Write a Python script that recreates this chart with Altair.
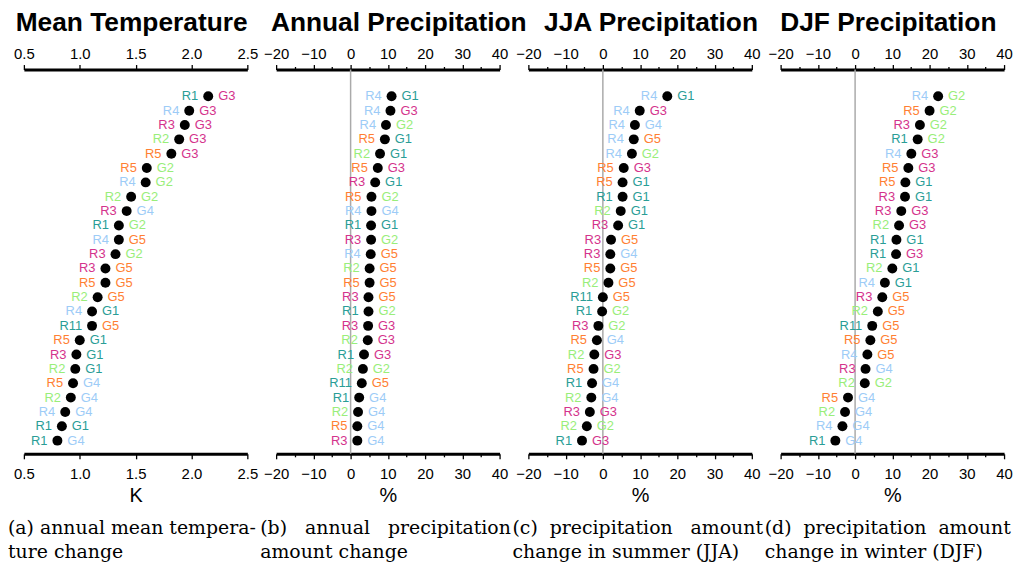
import altair as alt
import pandas as pd

# ---- data ----
code_domain = ["1", "2", "3", "4", "5", "11"]
code_colors = ["#2a9d96", "#99ee7a", "#d4338c", "#9dccf7", "#ff7f33", "#2a9d96"]

titles = ["Mean Temperature", "Annual Precipitation", "JJA Precipitation", "DJF Precipitation"]
title_dx = [-4, 11, 11, -4]
axis_titles = ["K", "%", "%", "%"]
NB = "\u00a0"
captions = [
    "(a) annual mean tempera-\nture change",
    "(b)" + NB * 3 + "annual" + NB * 3 + "precipitation\namount change",
    "(c)" + NB * 2 + "precipitation" + NB * 3 + "amount\nchange in summer (JJA)",
    "(d)" + NB * 2 + "precipitation" + NB * 2 + "amount\nchange in winter (DJF)",
]

temp_r = ["R1","R4","R3","R2","R5","R5","R4","R2","R3","R1","R4","R3","R3","R5","R2","R4","R11","R5","R3","R2","R5","R2","R4","R1","R1"]
temp_g = ["G3","G3","G3","G3","G3","G2","G2","G2","G4","G2","G5","G2","G5","G5","G5","G1","G5","G1","G1","G1","G4","G4","G4","G1","G4"]
temp_v = [2.15,1.98,1.94,1.89,1.82,1.60,1.59,1.46,1.42,1.35,1.35,1.32,1.23,1.23,1.16,1.11,1.11,1.00,0.97,0.96,0.94,0.92,0.87,0.84,0.80]

ann_r = ["R4","R4","R4","R5","R2","R5","R3","R5","R4","R1","R3","R4","R2","R5","R3","R1","R3","R2","R1","R2","R11","R1","R2","R5","R3"]
ann_g = ["G1","G3","G2","G1","G1","G3","G1","G2","G4","G1","G2","G5","G5","G5","G5","G2","G3","G3","G3","G2","G5","G4","G4","G4","G4"]
ann_v = [11.0,10.7,9.5,9.2,7.9,7.3,6.6,5.6,5.6,5.5,5.5,5.4,5.1,5.1,4.8,4.8,4.7,4.6,3.6,3.3,3.0,2.3,2.0,1.8,1.8]

jja_r = ["R4","R4","R4","R4","R4","R5","R5","R1","R2","R3","R3","R3","R5","R2","R11","R1","R3","R5","R2","R5","R1","R2","R3","R2","R1"]
jja_g = ["G1","G3","G4","G5","G2","G3","G1","G1","G1","G1","G5","G4","G5","G5","G5","G2","G2","G4","G3","G2","G4","G4","G3","G2","G3"]
jja_v = [17.3,9.9,8.6,8.3,7.8,5.6,5.3,5.3,4.8,4.1,2.2,2.0,2.0,1.5,0.0,-0.2,-1.2,-1.6,-2.3,-2.5,-2.9,-3.1,-3.5,-4.3,-5.6]

djf_r = ["R4","R5","R3","R1","R4","R5","R5","R3","R3","R2","R1","R1","R2","R4","R3","R2","R11","R5","R4","R3","R2","R5","R2","R4","R1"]
djf_g = ["G2","G2","G2","G2","G3","G3","G1","G1","G3","G3","G1","G3","G1","G1","G5","G5","G5","G5","G5","G4","G2","G4","G4","G4","G4"]
djf_v = [22.3,20.0,17.4,16.8,15.1,14.3,13.5,13.4,12.4,11.8,11.1,11.0,10.0,8.0,7.3,6.1,4.6,4.1,3.3,2.8,2.6,-1.9,-2.7,-3.4,-5.3]

temp_domain = [0.5, 2.5]
temp_ticks = [0.5, 1.0, 1.5, 2.0, 2.5]
prec_domain = [-20, 40]
prec_ticks = [-20, -15, -10, -5, 0, 5, 10, 15, 20, 25, 30, 35, 40]

W, H = 225, 387
FONT = "Liberation Sans"
color_scale = alt.Scale(domain=code_domain, range=code_colors)


def panel(i, rl, gl, vals, dom, ticks, is_prec):
    df = pd.DataFrame({"rank": list(range(1, len(vals) + 1)), "v": vals, "r": rl, "g": gl})
    df["rc"] = df["r"].str[1:]
    df["gc"] = df["g"].str[1:]
    xs = alt.Scale(domain=dom, nice=False, zero=False)
    ys = alt.Scale(domain=[-0.87, 25.92], reverse=True)
    if is_prec:
        lab = "datum.value % 10 == 0 ? datum.label : ''"
        tsize = {"condition": {"test": "datum.value % 10 == 0", "value": 5}, "value": 3}
        fmt = "d"
    else:
        lab = "datum.label"
        tsize = 5
        fmt = ".1f"
    common = dict(values=ticks, format=fmt, labelExpr=lab, tickSize=tsize, tickColor="black",
                  tickWidth=1.3, domainColor="black", domainWidth=3, labelFont=FONT,
                  labelFontSize=15, labelColor="black", labelOverlap=False,
                  labelFlush=False, grid=False)
    base = alt.Chart(df)
    top = base.mark_circle(opacity=0).encode(
        x=alt.X("v:Q", scale=xs, axis=alt.Axis(orient="top", title=None, labelPadding=3, **common)),
        y=alt.Y("rank:Q", scale=ys, axis=None),
    )
    dots = base.mark_circle(size=100, color="black", opacity=1).encode(
        x=alt.X("v:Q", scale=xs, axis=alt.Axis(orient="bottom", title=axis_titles[i],
                                              titleFont=FONT, titleFontSize=20,
                                              titleFontWeight="normal", titleColor="black",
                                              titlePadding=4, labelPadding=8, **common)),
        y=alt.Y("rank:Q", scale=ys, axis=None),
    )
    left = base.mark_text(align="right", baseline="middle", dx=-10, font=FONT, fontSize=13).encode(
        x=alt.X("v:Q", scale=xs, axis=None),
        y=alt.Y("rank:Q", scale=ys, axis=None),
        text="r:N",
        color=alt.Color("rc:N", scale=color_scale, legend=None),
    )
    right = base.mark_text(align="left", baseline="middle", dx=10, font=FONT, fontSize=13).encode(
        x=alt.X("v:Q", scale=xs, axis=None),
        y=alt.Y("rank:Q", scale=ys, axis=None),
        text="g:N",
        color=alt.Color("gc:N", scale=color_scale, legend=None),
    )
    cap = alt.Chart(pd.DataFrame({"t": [captions[i]]})).mark_text(
        align="left", baseline="top", font="DejaVu Serif", fontSize=19,
        lineBreak="\n", lineHeight=24, color="black"
    ).encode(x=alt.value(-16), y=alt.value(H + 66), text="t:N")
    layers = []
    if is_prec:
        zero = alt.Chart(pd.DataFrame({"z": [0]})).mark_rule(color="#aaaaaa", strokeWidth=1.5).encode(
            x=alt.X("z:Q", scale=xs, axis=None)
        )
        layers.append(zero)
    layers += [top, dots, left, right, cap]
    ch = alt.layer(*layers).resolve_axis(x="independent").properties(
        width=W, height=H,
        title=alt.TitleParams(titles[i], font=FONT, fontSize=26.5, fontWeight="bold",
                              color="black", anchor="middle", frame="group", offset=10,
                              dx=title_dx[i]),
    )
    return ch


p1 = panel(0, temp_r, temp_g, temp_v, temp_domain, temp_ticks, False)
p2 = panel(1, ann_r, ann_g, ann_v, prec_domain, prec_ticks, True)
p3 = panel(2, jja_r, jja_g, jja_v, prec_domain, prec_ticks, True)
p4 = panel(3, djf_r, djf_g, djf_v, prec_domain, prec_ticks, True)

chart = alt.hconcat(p1, p2, p3, p4, spacing=29, bounds="flush").properties(
    padding={"left": 0, "top": 0, "right": 0, "bottom": 0}
).configure_view(stroke=None)

chart.save("out.html", embed_options={"renderer": "svg", "actions": False})
